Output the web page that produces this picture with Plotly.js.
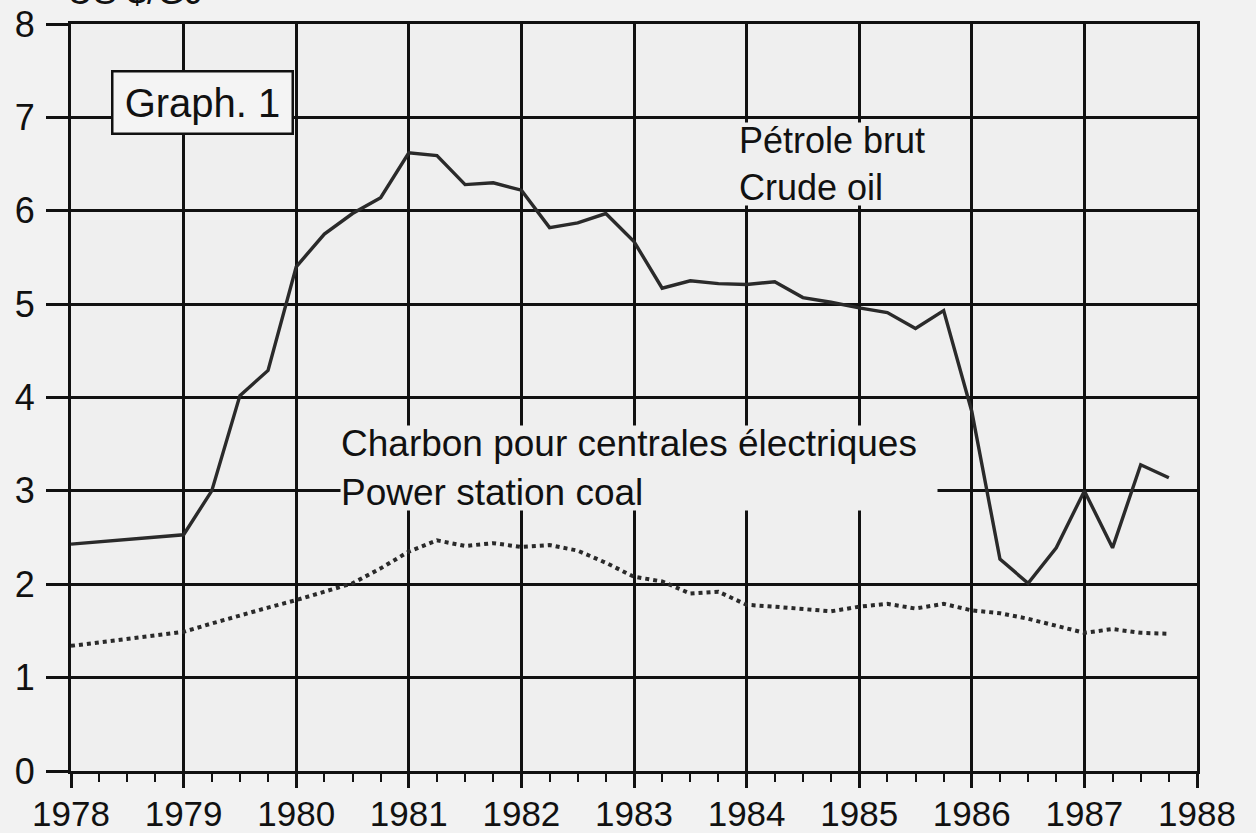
<!DOCTYPE html>
<html>
<head>
<meta charset="utf-8">
<script src="https://cdn.plot.ly/plotly-3.0.1.min.js"></script>
<style>
html,body{margin:0;padding:0;background:#f2f2f2;}
#chart{width:1256px;height:833px;}
</style>
</head>
<body>
<div id="chart"></div>
<script>
var periods = [1978, 1979, 1979.25, 1979.5, 1979.75,
  1980, 1980.25, 1980.5, 1980.75, 1981, 1981.25, 1981.5, 1981.75,
  1982, 1982.25, 1982.5, 1982.75, 1983, 1983.25, 1983.5, 1983.75,
  1984, 1984.25, 1984.5, 1984.75, 1985, 1985.25, 1985.5, 1985.75,
  1986, 1986.25, 1986.5, 1986.75, 1987, 1987.25, 1987.5, 1987.75];
var crudeOil = [2.43, 2.53, 3.0, 4.02, 4.29,
  5.40, 5.75, 5.97, 6.14, 6.62, 6.59, 6.28, 6.30,
  6.22, 5.82, 5.87, 5.97, 5.67, 5.17, 5.25, 5.22,
  5.21, 5.24, 5.07, 5.02, 4.96, 4.91, 4.74, 4.93,
  3.85, 2.27, 2.01, 2.39, 3.0, 2.39, 3.28, 3.14];
var powerCoal = [1.34, 1.49, 1.58, 1.67, 1.75,
  1.83, 1.92, 2.01, 2.17, 2.35, 2.47, 2.41, 2.44,
  2.40, 2.42, 2.36, 2.23, 2.08, 2.03, 1.90, 1.92,
  1.78, 1.76, 1.74, 1.71, 1.76, 1.79, 1.74, 1.79,
  1.72, 1.69, 1.63, 1.55, 1.48, 1.52, 1.48, 1.47];
var yearTicks = [1978, 1979, 1980, 1981, 1982, 1983, 1984, 1985, 1986, 1987, 1988];
var yearLabels = ["1978", "1979", "1980", "1981", "1982", "1983", "1984", "1985", "1986", "1987", "1988"];
var valueTicks = [0, 1, 2, 3, 4, 5, 6, 7, 8];

var FONT = "Liberation Sans, Arial, sans-serif";
var BG = "#efefef";

var traces = [
  {x: periods, y: crudeOil, type: "scatter", mode: "lines", name: "Crude oil",
   line: {color: "#2a2a2a", width: 3.4}},
  {x: periods, y: powerCoal, type: "scatter", mode: "lines", name: "Power station coal",
   line: {color: "#2a2a2a", width: 4, dash: "dot"}}
];

var layout = {
  width: 1256, height: 833,
  margin: {l: 71, r: 59, t: 24, b: 62, pad: 0},
  paper_bgcolor: "#f2f2f2",
  plot_bgcolor: BG,
  showlegend: false,
  font: {family: FONT, color: "#111", size: 34},
  xaxis: {
    range: [1978, 1988], tickvals: yearTicks, ticktext: yearLabels,
    showgrid: true, gridcolor: "#111", gridwidth: 3,
    ticks: "outside", ticklen: 14, tickwidth: 3, tickcolor: "#111",
    minor: {dtick: 0.25, tick0: 1978, ticks: "outside", ticklen: 8, tickwidth: 2, tickcolor: "#111", showgrid: false},
    showline: true, linecolor: "#111", linewidth: 3, mirror: true,
    zeroline: false,
    ticklabelstandoff: -4,
    tickfont: {family: FONT, size: 35, color: "#111"}
  },
  yaxis: {
    range: [0, 8], tickvals: valueTicks,
    showgrid: true, gridcolor: "#111", gridwidth: 3,
    ticks: "outside", ticklen: 22, tickwidth: 3, tickcolor: "#111",
    showline: true, linecolor: "#111", linewidth: 3, mirror: true,
    zeroline: false,
    ticklabelstandoff: 4,
    tickfont: {family: FONT, size: 36, color: "#111"}
  },
  annotations: [
    {xref: "paper", yref: "paper", x: -0.005, y: 1.014, xanchor: "left", yanchor: "bottom",
     text: "US $/GJ", showarrow: false, font: {family: FONT, size: 36, color: "#111"}},
    {xref: "x", yref: "y", x: 1979.168, y: 7.157, text: "Graph. 1", showarrow: false,
     width: 178, height: 60, bgcolor: "#f4f4f4", bordercolor: "#111", borderwidth: 2.5, borderpad: 0,
     font: {family: FONT, size: 40, color: "#111"}},
    {xref: "x", yref: "y", x: 1984.887, y: 6.50, text: "Pétrole brut<br>Crude oil", showarrow: false,
     width: 215, height: 82, align: "left", bgcolor: BG, borderpad: 0,
     font: {family: FONT, size: 36, color: "#111"}},
    {xref: "x", yref: "y", x: 1983.045, y: 3.244, text: "Charbon pour centrales électriques<br>Power station coal", showarrow: false,
     width: 596, height: 84, align: "left", bgcolor: BG, borderpad: 0,
     font: {family: FONT, size: 37, color: "#111"}}
  ]
};

Plotly.newPlot("chart", traces, layout, {staticPlot: true, displayModeBar: false});
</script>
</body>
</html>
